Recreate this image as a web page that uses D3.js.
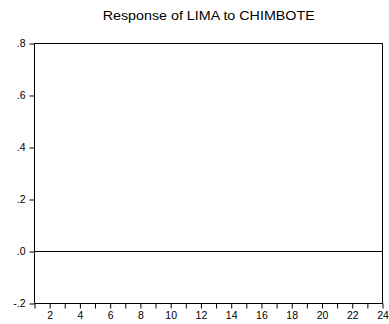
<!DOCTYPE html>
<html>
<head>
<meta charset="utf-8">
<script src="https://cdn.jsdelivr.net/npm/d3@7"></script>
<style>
  body { margin: 0; background: #fff; }
  svg { display: block; font-family: "Liberation Sans", Arial, sans-serif; }
</style>
</head>
<body>
<div id="chart"></div>
<script>
// periods and the impulse response (flat at zero)
const periods = d3.range(1, 25);
const response = periods.map(() => 0);
const yTicks = [-0.2, 0, 0.2, 0.4, 0.6, 0.8];
const xLabels = [2, 4, 6, 8, 10, 12, 14, 16, 18, 20, 22, 24];
const title = "Response of LIMA to CHIMBOTE";

const W = 389, H = 324;
const pLeft = 34.5, pRight = 382.5, pTop = 43.5, pBottom = 303.5;

const svg = d3.select("#chart").append("svg")
  .attr("width", W)
  .attr("height", H);

const x = d3.scaleLinear().domain([1, 24]).range([pLeft, pRight]);
const y = d3.scaleLinear().domain([-0.2, 0.8]).range([pBottom, pTop]);

// title (glyphs a bit wider than plain Arial in the original)
svg.append("text")
  .attr("x", 208.7)
  .attr("y", 19.5)
  .attr("text-anchor", "middle")
  .attr("textLength", 212)
  .attr("lengthAdjust", "spacingAndGlyphs")
  .style("font-size", "12px")
  .text(title);

// frame
svg.append("path")
  .attr("d", `M${pLeft},${pBottom}V${pTop}H${pRight}V${pBottom}`)
  .attr("fill", "none")
  .attr("stroke", "#000")
  .attr("stroke-width", 1);

// y axis
const fmtY = d => {
  const s = Math.abs(d).toFixed(1).replace(/^0/, "");
  return (d < 0 ? "-" : "") + s;
};
const yAxis = svg.append("g")
  .attr("transform", `translate(${pLeft},0)`)
  .call(d3.axisLeft(y).tickValues(yTicks).tickSize(5).tickPadding(4).tickFormat(fmtY));
yAxis.select(".domain").remove();
yAxis.selectAll("text").style("font-size", "10.5px").attr("fill", "#000");

// x axis
const xAxis = svg.append("g")
  .attr("transform", `translate(0,${pBottom})`)
  .call(d3.axisBottom(x).tickValues(periods).tickSize(5).tickPadding(3)
    .tickFormat(d => xLabels.includes(d) ? d : ""));
xAxis.select(".domain").attr("d", `M${pLeft},0H${pRight}`);
xAxis.selectAll("text").style("font-size", "10.5px").attr("fill", "#000");

// zero reference line
svg.append("line")
  .attr("x1", pLeft).attr("x2", pRight)
  .attr("y1", y(0)).attr("y2", y(0))
  .attr("stroke", "#000");

// response line
svg.append("path")
  .datum(response)
  .attr("fill", "none")
  .attr("stroke", "#000")
  .attr("d", d3.line().x((d, i) => x(periods[i])).y(d => y(d)));
</script>
</body>
</html>
